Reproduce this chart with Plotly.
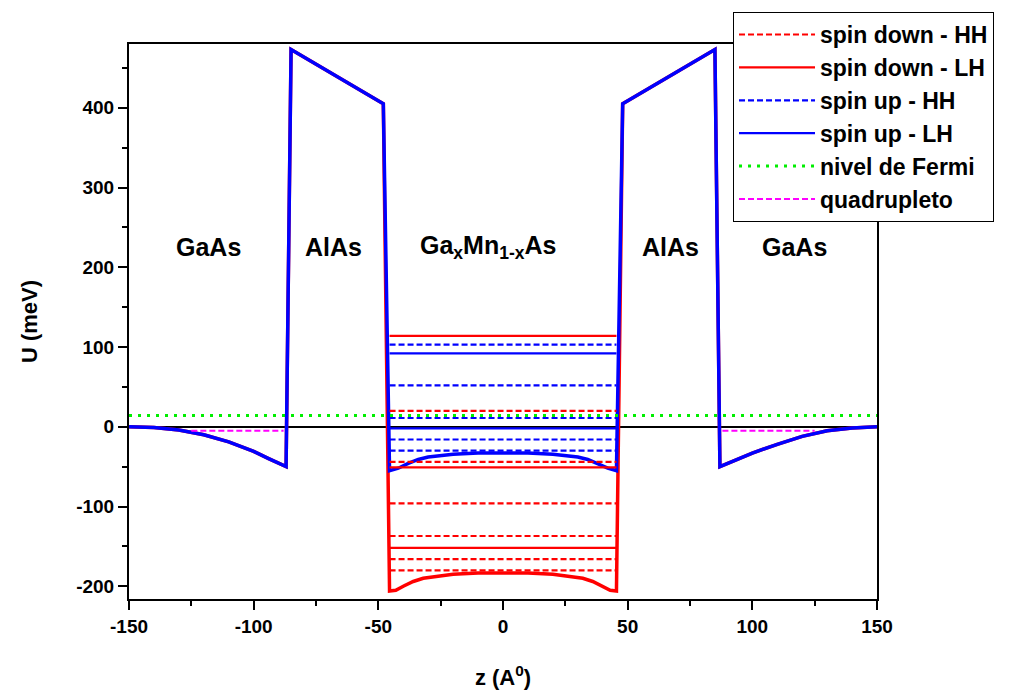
import plotly.graph_objects as go

# --- Valence-band profile, spin down (meV vs z in Angstrom) ---
z_down = [-150, -140, -130, -120, -110, -100, -94, -87,
          -85, -48,
          -45.5, -43, -40, -36, -32, -26, -20, -10, 0, 10, 20, 26, 32, 36, 40, 43, 45.5,
          48, 85,
          87, 94, 100, 110, 120, 130, 140, 150]
u_down = [0, -1, -4, -10, -19, -31, -40, -50,
          473, 405,
          -206, -205, -200, -194, -190, -187, -185, -183.5, -183, -183.5, -185, -187, -190, -194, -200, -205, -206,
          405, 473,
          -50, -41, -33, -22, -12, -5, -1.5, 0]

# --- Valence-band profile, spin up ---
z_up = [-150, -140, -130, -120, -110, -100, -94, -87,
        -85, -48,
        -45.5, -42, -38, -34, -30, -25, -20, -10, 0, 10, 20, 25, 30, 34, 38, 42, 45.5,
        48, 85,
        87, 94, 100, 110, 120, 130, 140, 150]
u_up = [0, -1, -4, -10, -19, -31, -40, -50,
        473, 405,
        -55, -52, -46, -41, -38, -36, -34.5, -33, -32.5, -33, -34.5, -36, -38, -41, -46, -52, -55,
        405, 473,
        -50, -41, -33, -22, -12, -5, -1.5, 0]

# --- Bound-state energies in the well (meV) ---
well_edges = [-45.5, 45.5]
levels_down_hh = [20, -44, -96, -137, -166, -180]
levels_down_lh = [114, -51, -152]
levels_up_hh = [103, 52, 11, -16, -30]
levels_up_lh = [92, -2]

# Fermi level and the quadruplet state in the outer GaAs layers
fermi_level = 14
z_range = [-150, 150]
quad_level = -5
quad_segments = [(-125, -88), (88, 125)]

# Layer labels
layer_names = ["GaAs", "AlAs", "Ga<sub>x</sub>Mn<sub>1-x</sub>As", "AlAs", "GaAs"]
layer_z = [-118, -68, -6, 67, 117]
layer_u = [225, 225, 225, 225, 225]

# Tick values and labels (plain hyphen for negatives)
x_ticks = [-150, -100, -50, 0, 50, 100, 150]
x_ticklabels = ["-150", "-100", "-50", "0", "50", "100", "150"]
y_ticks = [-200, -100, 0, 100, 200, 300, 400]
y_ticklabels = ["-200", "-100", "0", "100", "200", "300", "400"]

RED = "#ff0000"
BLUE = "#0000ff"
GREEN = "#00ee00"
MAGENTA = "#ff00ff"


def segments(levels, edges):
    xs, ys = [], []
    for e in levels:
        xs += [edges[0], edges[1], None]
        ys += [e, e, None]
    return xs, ys


fig = go.Figure()

fig.add_trace(go.Scatter(x=z_down, y=u_down, mode="lines", showlegend=False,
                         line=dict(color=RED, width=3.5)))
fig.add_trace(go.Scatter(x=z_up, y=u_up, mode="lines", showlegend=False,
                         line=dict(color=BLUE, width=3.5)))

x, y = segments(levels_down_hh, well_edges)
fig.add_trace(go.Scatter(x=x, y=y, mode="lines", name="spin down - HH",
                         line=dict(color=RED, width=2.2, dash="6px,3px")))
x, y = segments(levels_down_lh, well_edges)
fig.add_trace(go.Scatter(x=x, y=y, mode="lines", name="spin down - LH",
                         line=dict(color=RED, width=2.2)))
x, y = segments(levels_up_hh, well_edges)
fig.add_trace(go.Scatter(x=x, y=y, mode="lines", name="spin up - HH",
                         line=dict(color=BLUE, width=2.2, dash="6px,3px")))
x, y = segments(levels_up_lh, well_edges)
fig.add_trace(go.Scatter(x=x, y=y, mode="lines", name="spin up - LH",
                         line=dict(color=BLUE, width=2.2)))

fig.add_trace(go.Scatter(x=z_range, y=[fermi_level, fermi_level], mode="lines",
                         name="nivel de Fermi",
                         line=dict(color=GREEN, width=3, dash="3px,6px")))

qx, qy = [], []
for a, b in quad_segments:
    qx += [a, b, None]
    qy += [quad_level, quad_level, None]
fig.add_trace(go.Scatter(x=qx, y=qy, mode="lines", name="quadrupleto",
                         line=dict(color=MAGENTA, width=2, dash="6px,3px")))

for name, zx, uy in zip(layer_names, layer_z, layer_u):
    fig.add_annotation(x=zx, y=uy, text=name, showarrow=False,
                       font=dict(size=25, color="black", weight="bold"),
                       xanchor="center", yanchor="middle")

axis_common = dict(
    showgrid=False, showline=True, linecolor="black", linewidth=2,
    mirror=True, ticks="outside", ticklen=9, tickwidth=2, tickcolor="black",
    tickfont=dict(size=19, color="black", weight="bold"), automargin=False,
)

fig.update_xaxes(range=[-150, 150], tickmode="array", tickvals=x_ticks, ticktext=x_ticklabels,
                 zeroline=False,
                 minor=dict(dtick=25, ticks="outside", ticklen=5, tickwidth=2, tickcolor="black"),
                 title=dict(text="z (A<sup>0</sup>)", standoff=34,
                            font=dict(size=22, color="black", weight="bold")),
                 **axis_common)
fig.update_yaxes(range=[-216, 480], tickmode="array", tickvals=y_ticks, ticktext=y_ticklabels,
                 zeroline=True, zerolinecolor="black", zerolinewidth=2,
                 minor=dict(dtick=50, ticks="outside", ticklen=5, tickwidth=2, tickcolor="black"),
                 title=dict(text="U (meV)", standoff=32,
                            font=dict(size=22, color="black", weight="bold")),
                 **axis_common)

fig.update_layout(
    width=1018, height=690,
    margin=dict(l=129, r=141, t=42, b=91),
    paper_bgcolor="white", plot_bgcolor="white",
    font=dict(family="Liberation Sans, Arial, sans-serif", color="black"),
    legend=dict(x=0.8075, y=1.0576, xanchor="left", yanchor="top",
                bgcolor="white", bordercolor="black", borderwidth=1,
                font=dict(size=23, color="black", weight="bold"),
                itemwidth=76, tracegroupgap=0),
)

fig.write_html("out.html")
